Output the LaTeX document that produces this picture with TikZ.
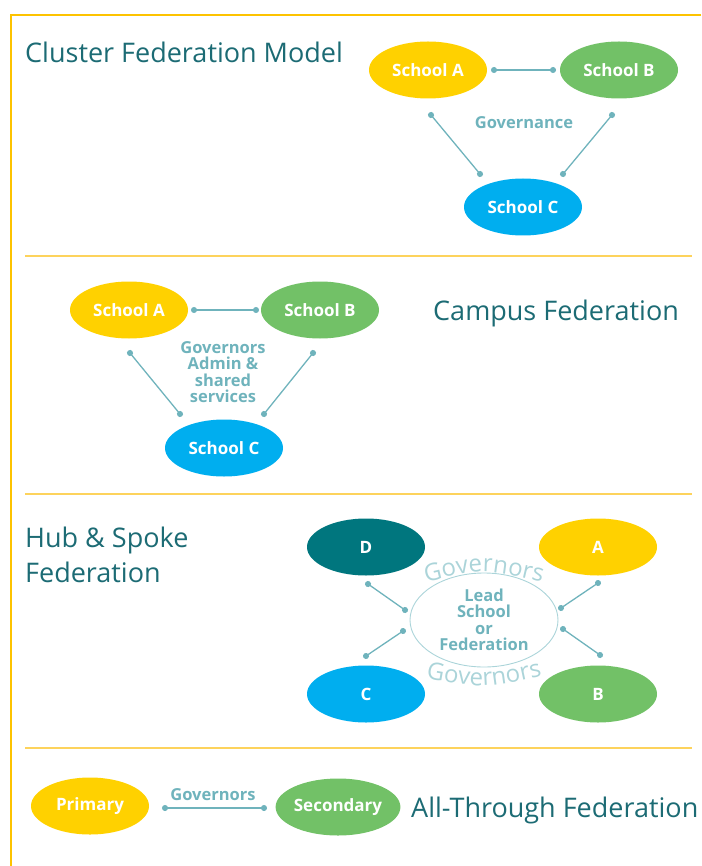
\documentclass[tikz,border=0pt]{standalone}
\usepackage{fontspec}
\setmainfont{Open Sans}
\newfontfamily\headfont{Open Sans}
\newfontfamily\boldfont{Open Sans}
\usepackage{tikz}
\usetikzlibrary{shapes.geometric,arrows.meta,decorations.text}

\definecolor{fedyellow}{HTML}{FFD100}
\definecolor{fedgreen}{HTML}{72C167}
\definecolor{fedblue}{HTML}{00AEEF}
\definecolor{fedteal}{HTML}{00767E}
\definecolor{titlec}{HTML}{1C6B74}
\definecolor{linkc}{HTML}{6FB3BC}
\definecolor{govc}{HTML}{ABD4D9}
\definecolor{framec}{HTML}{FDC300}
\definecolor{rulec}{HTML}{FDD35C}

\newcommand{\govfont}{\headfont\fontsize{24}{24}\selectfont\color{govc}}

\begin{document}
\begin{tikzpicture}[x=1pt,y=-1pt,
    school/.style={ellipse, minimum width=118pt, minimum height=57pt, inner sep=0pt,
        text=white, font=\boldfont\bfseries\fontsize{17}{17}\selectfont},
    link/.style={linkc, line width=1.3pt, {Circle[length=6pt]}-{Circle[length=6pt]},
        shorten <=-3pt, shorten >=-3pt},
    heading/.style={anchor=base west, inner sep=0pt, text=titlec,
        font=\headfont\fontsize{27}{35}\selectfont},
    note/.style={inner sep=0pt, align=center, text=linkc,
        font=\boldfont\bfseries\fontsize{16.5}{16.5}\selectfont},
    rule/.style={rulec, line width=1.2pt}]

    \useasboundingbox (0,0) rectangle (701,866);

    % Draw frame and rules
    \draw[framec, line width=2.4pt] (701,15) -- (11,15) -- (11,866);
    \draw[rule] (25,256) -- (692,256);
    \draw[rule] (25,494) -- (692,494);
    \draw[rule] (25,748) -- (692,748);

    % Cluster federation
    \node[heading] (cluster) at (25,63) {Cluster Federation Model};
    \node[school, fill=fedyellow] (ca) at (428,70) {School A};
    \node[school, fill=fedgreen] (cb) at (619,70) {School B};
    \node[school, fill=fedblue] (cc) at (523,207) {School C};
    \node[note] (governance) at (524,123) {Governance};

    \coordinate (ca-b) at (494,70);
    \coordinate (cb-a) at (553,70);
    \coordinate (ca-c) at (431,115);
    \coordinate (cc-a) at (480,174);
    \coordinate (cb-c) at (612,115);
    \coordinate (cc-b) at (563,174);
    \draw[link] (ca-b) -- (cb-a);
    \draw[link] (ca-c) -- (cc-a);
    \draw[link] (cb-c) -- (cc-b);

    % Campus federation
    \node[heading] (campus) at (433,320) {Campus Federation};
    \node[school, fill=fedyellow] (pa) at (129,310) {School A};
    \node[school, fill=fedgreen] (pb) at (320,310) {School B};
    \node[school, fill=fedblue] (pc) at (224,448) {School C};
    \node[note] (shared) at (223,372) {Governors\\Admin \&\\shared\\services};

    \coordinate (pa-b) at (194,310);
    \coordinate (pb-a) at (256,310);
    \coordinate (pa-c) at (130,353);
    \coordinate (pc-a) at (180,414);
    \coordinate (pb-c) at (313,353);
    \coordinate (pc-b) at (264,414);
    \draw[link] (pa-b) -- (pb-a);
    \draw[link] (pa-c) -- (pc-a);
    \draw[link] (pb-c) -- (pc-b);

    % Hub and spoke federation
    \node[heading] (hub) at (25,547) {Hub \& Spoke};
    \node[heading] (hubfed) at (25,582) {Federation};
    \node[school, fill=fedteal] (hd) at (366,547) {D};
    \node[school, fill=fedyellow] (ha) at (598,547) {A};
    \node[school, fill=fedblue] (hc) at (366,694) {C};
    \node[school, fill=fedgreen] (hb) at (598,694) {B};
    \node[ellipse, draw=govc, line width=0.9pt, minimum width=148pt, minimum height=94pt,
        inner sep=0pt, align=center, text=linkc,
        font=\boldfont\bfseries\fontsize{16.5}{16.5}\selectfont] (lead) at (484,620)
        {Lead\\School\\or\\Federation};

    \path[decorate, decoration={text along path, text align=center,
        text={|\govfont|Governors}}] (418,584) .. controls (484,568) .. (550,584);
    \path[decorate, decoration={text along path, text align=center,
        text={|\govfont|Governors}}] (418,677) .. controls (484,689) .. (550,674);

    \coordinate (hd-l) at (368,584);
    \coordinate (l-hd) at (405,610);
    \coordinate (ha-l) at (598,583);
    \coordinate (l-ha) at (561,608);
    \coordinate (l-hc) at (403,631);
    \coordinate (hc-l) at (366,656);
    \coordinate (l-hb) at (563,629);
    \coordinate (hb-l) at (600,655);
    \draw[link] (hd-l) -- (l-hd);
    \draw[link] (ha-l) -- (l-ha);
    \draw[link] (l-hc) -- (hc-l);
    \draw[link] (l-hb) -- (hb-l);

    % All-through federation
    \node[school, fill=fedyellow] (primary) at (90,806) {Primary};
    \node[school, fill=fedgreen] (secondary) at (338,807) {Secondary};
    \node[note] (gov) at (213,795) {Governors};
    \coordinate (pr-s) at (165,808);
    \coordinate (s-pr) at (264,808);
    \draw[link] (pr-s) -- (s-pr);
    \node[heading] (through) at (411,817) {All-Through Federation};
\end{tikzpicture}
\end{document}
